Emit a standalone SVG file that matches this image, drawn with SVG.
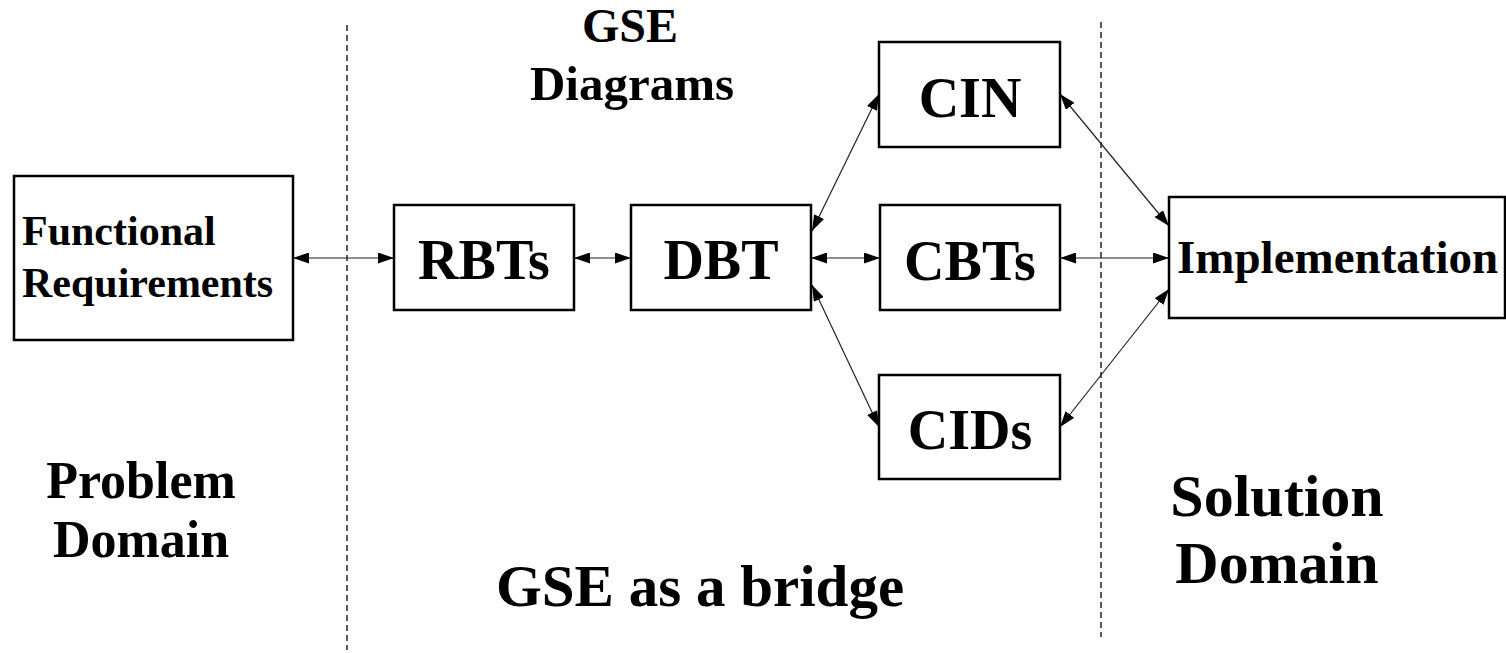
<svg xmlns="http://www.w3.org/2000/svg" width="1506" height="653" viewBox="0 0 1506 653">
<style>
.box{fill:#fff;stroke:#000;stroke-width:2.5}
.t{font-family:"Liberation Serif","Times New Roman",serif;font-weight:bold;fill:#000}
.c{text-anchor:middle}
.div{stroke:#000;stroke-width:1.3;stroke-dasharray:6,4;fill:none}
.con{stroke:#222;stroke-width:1.2;fill:none;marker-start:url(#ah);marker-end:url(#ah)}
</style>
<defs>
<marker id="ah" markerUnits="userSpaceOnUse" markerWidth="16" markerHeight="11" refX="16" refY="5.5" orient="auto-start-reverse" viewBox="0 0 16 11">
<path d="M0,0 L16,5.5 L0,11 z" fill="#000"/>
</marker>
</defs>
<rect width="1506" height="653" fill="#fff"/>
<g id="dividers">
<line class="div" x1="347" y1="25" x2="347" y2="650"/>
<line class="div" x1="1101" y1="22" x2="1101" y2="637"/>
</g>
<g id="labels">
<text class="t c" x="630" y="42" font-size="48">GSE</text>
<text class="t c" x="632" y="100" font-size="49">Diagrams</text>
<text class="t c" x="141" y="498" font-size="52">Problem</text>
<text class="t c" x="141" y="557" font-size="52">Domain</text>
<text class="t c" x="700" y="606" font-size="59">GSE as a bridge</text>
<text class="t c" x="1277" y="516" font-size="60">Solution</text>
<text class="t c" x="1277" y="583" font-size="60">Domain</text>
</g>
<g id="connectors">
<line class="con" x1="293" y1="258" x2="394" y2="258"/>
<line class="con" x1="574" y1="258" x2="631" y2="258"/>
<line class="con" x1="811" y1="258" x2="880" y2="258"/>
<line class="con" x1="1060" y1="258" x2="1169" y2="258"/>
<line class="con" x1="812" y1="231" x2="879" y2="94"/>
<line class="con" x1="812" y1="285" x2="879" y2="427"/>
<line class="con" x1="1060" y1="94" x2="1169" y2="226"/>
<line class="con" x1="1060" y1="427" x2="1169" y2="289"/>
</g>
<g id="functional-requirements">
<rect class="box" x="14" y="176" width="279" height="164"/>
<text class="t" x="22" y="245" font-size="42">Functional</text>
<text class="t" x="22" y="297" font-size="42">Requirements</text>
</g>
<g id="rbts">
<rect class="box" x="394" y="205" width="180" height="105"/>
<text class="t c" x="484" y="279" font-size="56">RBTs</text>
</g>
<g id="dbt">
<rect class="box" x="631" y="205" width="180" height="105"/>
<text class="t c" x="721" y="279" font-size="56">DBT</text>
</g>
<g id="cin">
<rect class="box" x="879" y="42" width="181" height="105"/>
<text class="t c" x="970" y="117" font-size="56">CIN</text>
</g>
<g id="cbts">
<rect class="box" x="880" y="205" width="180" height="105"/>
<text class="t c" x="970" y="280" font-size="56">CBTs</text>
</g>
<g id="cids">
<rect class="box" x="879" y="375" width="181" height="104"/>
<text class="t c" x="970" y="449" font-size="56">CIDs</text>
</g>
<g id="implementation">
<rect class="box" x="1169" y="197" width="336" height="121"/>
<text class="t" x="1177" y="273" font-size="47">Implementation</text>
</g>
</svg>
